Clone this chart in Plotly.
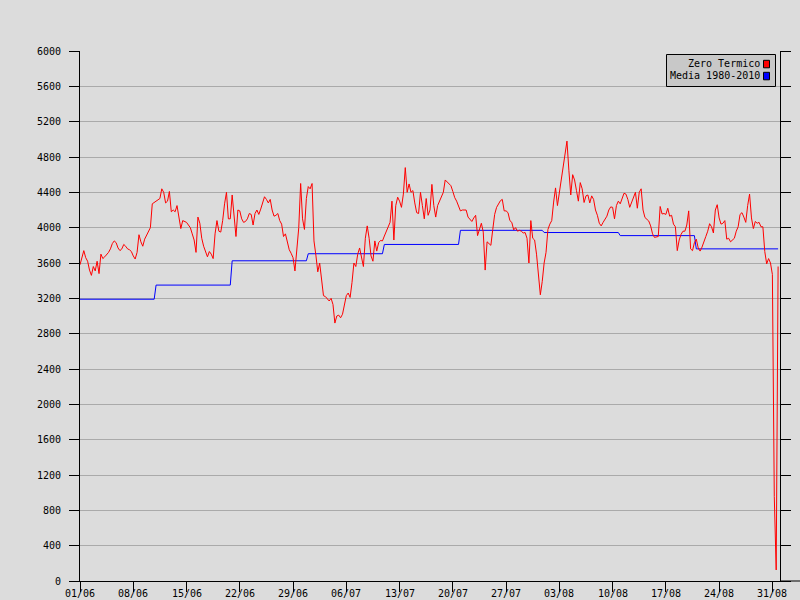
import pandas as pd
import plotly.graph_objects as go

# Zero termico, 6-hourly readings from 01/06 (metres)
zero_termico = [
    3580, 3650, 3740, 3660, 3620, 3520, 3460, 3560, 3510, 3620, 3480, 3700,
    3650, 3670, 3690, 3720, 3760, 3820, 3850, 3830, 3770, 3740, 3760, 3810,
    3790, 3760, 3750, 3730, 3680, 3645, 3720, 3920, 3840, 3790, 3870, 3920,
    3960, 4000, 4270, 4285, 4300, 4310, 4330, 4440, 4400, 4280, 4300, 4410,
    4180, 4200, 4180, 4250, 4120, 3990, 4080, 4070, 4060, 4030, 4000, 3930,
    3860, 3720, 4120, 4050, 3880, 3790, 3740, 3670, 3730, 3700, 3650, 3930,
    4080, 3960, 3950, 4080, 4270, 4400, 4100, 4100, 4370, 4150, 3900, 4200,
    4190, 4100, 4060, 4070, 4100, 4160, 4150, 4030, 4160, 4200, 4150, 4210,
    4290, 4350, 4320, 4280, 4320, 4200, 4130, 4140, 4160, 4080, 4040, 3900,
    3930, 3830, 3750, 3710, 3660, 3510, 3730, 4000, 4500, 4100, 3980, 4330,
    4465, 4440, 4500, 3850, 3690, 3500, 3600, 3400, 3230, 3220, 3190, 3170,
    3200, 3130, 2920, 3000, 3010, 2980, 3020, 3125, 3230, 3260, 3210, 3380,
    3600, 3560, 3700, 3770, 3670, 3560, 3880, 4020, 3880, 3680, 3620, 3850,
    3735, 3830, 3855, 3850, 3905, 3960, 4010, 4060, 4300, 3860, 4250, 4345,
    4300, 4230, 4380, 4680, 4400, 4495, 4400, 4420, 4280, 4170, 4160, 4400,
    4250, 4100, 4330, 4140, 4200, 4490, 4250, 4120, 4250, 4300, 4360, 4400,
    4540, 4520, 4495, 4475, 4410, 4340, 4300, 4240, 4190, 4200, 4200, 4200,
    4120, 4090, 4070, 4110, 4140, 3910, 3990, 4050, 3950, 3520, 3840, 3820,
    3800, 3980, 4150, 4230, 4275, 4305, 4320, 4190, 4190, 4170, 4080, 4060,
    3975, 4000, 3960, 3970, 3960, 3940, 3945, 3880, 3600, 4080, 3880, 3860,
    3700, 3430, 3240, 3390, 3600, 3720, 3980, 4040, 4080, 4290, 4450, 4250,
    4400, 4560, 4730, 4840, 4980, 4650, 4370, 4600, 4540, 4420, 4300, 4510,
    4440, 4285, 4360, 4370, 4280, 4360, 4320, 4200, 4140, 4050, 4020, 4060,
    4095, 4130, 4200, 4235, 4230, 4100, 4250, 4300, 4270, 4320, 4390, 4380,
    4320, 4230, 4280, 4350, 4400, 4220, 4400, 4440, 4200, 4115, 4100, 4075,
    4020, 3930, 3890, 3895, 3900, 4240, 4155, 4160, 4150, 4220, 4130, 4140,
    4040, 4010, 3740, 3860, 3925, 3960, 3960, 4030, 4190, 3760, 3740, 3830,
    3870, 3770, 3735, 3780, 3850, 3900, 3960, 4045, 4010, 3940, 4200, 4260,
    4110, 4040, 4050, 4080, 3870, 3880, 3840, 3860, 3880, 3960, 4010, 4150,
    4170, 4120, 4060, 4250, 4380, 4110, 3990, 4070, 4050, 4060, 4010, 4010,
    3730, 3590, 3650, 3600, 3470, 955, 125, 3560,
]

# Media 1980-2010 by ten-day period
media_start = ["2013-06-01", "2013-06-11", "2013-06-21", "2013-07-01", "2013-07-11",
               "2013-07-21", "2013-08-01", "2013-08-11", "2013-08-21"]
media_values = [3190, 3350, 3625, 3705, 3810, 3970, 3945, 3910, 3760]

tick_dates = ["2013-06-01", "2013-06-08", "2013-06-15", "2013-06-22", "2013-06-29",
              "2013-07-06", "2013-07-13", "2013-07-20", "2013-07-27", "2013-08-03",
              "2013-08-10", "2013-08-17", "2013-08-24", "2013-08-31"]
tick_labels = ["01/06", "08/06", "15/06", "22/06", "29/06", "06/07", "13/07",
               "20/07", "27/07", "03/08", "10/08", "17/08", "24/08", "31/08"]
y_ticks = list(range(0, 6001, 400))

times = pd.date_range("2013-06-01", periods=len(zero_termico), freq="6h")
starts = pd.to_datetime(media_start)
media_series = []
for t in times:
    v = media_values[0]
    for s, mv in zip(starts, media_values):
        if t >= s:
            v = mv
    media_series.append(v)

FONT = "DejaVu Sans Mono"
W, H = 800, 600
L, R, T, B = 80, 20, 51, 19
PW, PH = W - L - R, H - T - B


def px(x):
    return (x - L) / PW


def py(y):
    return (H - B - y) / PH


fig = go.Figure()
fig.add_trace(go.Scatter(x=times, y=media_series, mode="lines",
                         line=dict(color="#0000ff", width=1), name="Media 1980-2010"))
fig.add_trace(go.Scatter(x=times, y=zero_termico, mode="lines",
                         line=dict(color="#ff0000", width=1), name="Zero Termico"))

bg = "#dcdcdc"
fig.update_layout(
    width=W, height=H,
    margin=dict(l=L, r=R, t=T, b=B, pad=0, autoexpand=False),
    paper_bgcolor=bg, plot_bgcolor=bg,
    showlegend=False,
    font=dict(family=FONT, size=10, color="black"),
    xaxis=dict(
        type="date", automargin=False,
        range=["2013-06-01", "2013-09-01"],
        tickvals=pd.to_datetime(tick_dates), showticklabels=False,
        showgrid=False, zeroline=False,
        showline=True, linecolor="black", linewidth=1,
        ticks="outside", ticklen=10, tickcolor="black", tickwidth=1,
    ),
    yaxis=dict(
        range=[0, 6000], automargin=False,
        tickvals=y_ticks, ticktext=[str(v) for v in y_ticks],
        showgrid=True, gridcolor="#aaaaaa", gridwidth=1,
        zeroline=False,
        showline=True, linecolor="black", linewidth=1, mirror="ticks",
        ticks="outside", ticklen=10, tickcolor="black", tickwidth=1,
        tickfont=dict(family=FONT, size=10, color="black"),
        ticklabelstandoff=6,
    ),
)

# x tick labels, kept inside the bottom edge
for d, lab in zip(tick_dates, tick_labels):
    fig.add_annotation(x=d, y=0, xref="x", yref="paper", text=lab,
                       showarrow=False, xanchor="center", yanchor="bottom",
                       yshift=-B, borderpad=0,
                       font=dict(family=FONT, size=10, color="black"))

# bottom axis extension past the right axis
fig.add_shape(type="line", xref="paper", yref="paper",
              x0=1, x1=px(800), y0=0, y1=0, line=dict(color="black", width=1))

# legend box
fig.add_shape(type="rect", xref="paper", yref="paper",
              x0=px(666.5), x1=px(775.5), y0=py(86.5), y1=py(54.5),
              fillcolor="#c8c8c8", line=dict(color="black", width=1), layer="above")
legend_items = [("Zero Termico", "#ff0000", 63.8), ("Media 1980-2010", "#0000ff", 75.8)]
for text, col, yc in legend_items:
    fig.add_annotation(x=px(761.5), y=py(yc), xref="paper", yref="paper",
                       text=text, showarrow=False, xanchor="right", yanchor="middle",
                       font=dict(family=FONT, size=10, color="black"))
    fig.add_shape(type="rect", xref="paper", yref="paper",
                  x0=px(763.5), x1=px(769.5), y0=py(yc + 4), y1=py(yc - 3.5),
                  fillcolor=col, line=dict(color="black", width=1), layer="above")

fig.write_html("out.html", config={"displayModeBar": False},
               post_script="document.body.style.margin='0';document.body.style.padding='0';")
